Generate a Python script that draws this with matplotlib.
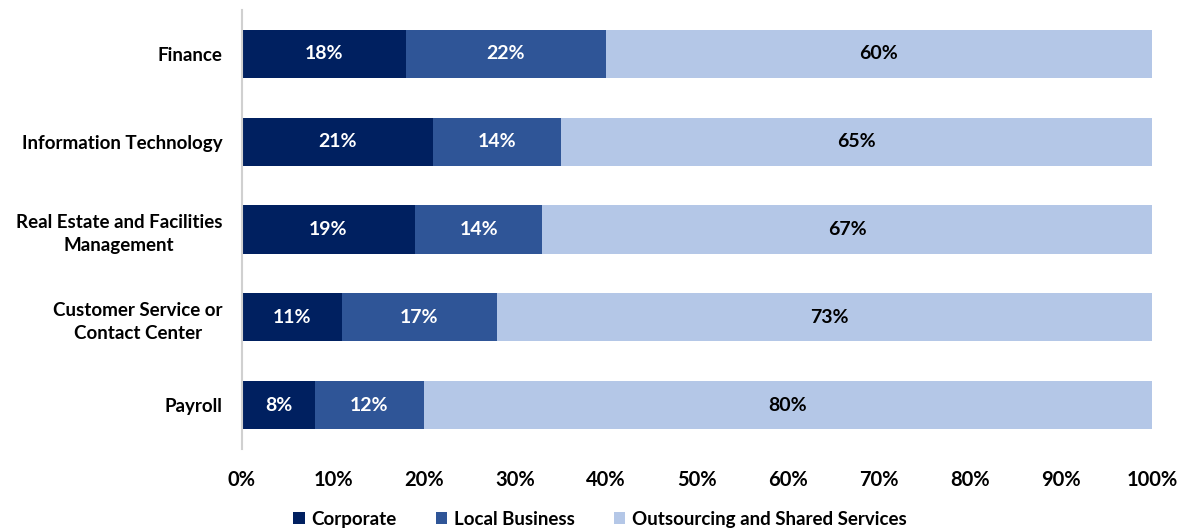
import matplotlib
matplotlib.use("Agg")
import matplotlib.pyplot as plt
from matplotlib.patches import Patch

plt.rcParams['font.family'] = ['Lato', 'DejaVu Sans']

categories = ["Finance", "Information Technology", "Real Estate and Facilities\nManagement",
              "Customer Service or\nContact Center", "Payroll"]
series_names = ["Corporate", "Local Business", "Outsourcing and Shared Services"]
corporate = [18, 21, 19, 11, 8]
local_business = [22, 14, 14, 17, 12]
outsourcing = [60, 65, 67, 73, 80]
tick_labels = ["0%", "10%", "20%", "30%", "40%", "50%", "60%", "70%", "80%", "90%", "100%"]

colors = ["#002060", "#2F5597", "#B4C7E7"]
text_colors = ["white", "white", "black"]

fig = plt.figure(figsize=(11.8, 5.29), dpi=100)
ax = fig.add_axes([242/1180, (529-449)/529, (1152-242)/1180, 439/529])

ypos = list(range(len(categories)))
left = [0.0] * len(categories)
for vals, col, tc in zip([corporate, local_business, outsourcing], colors, text_colors):
    fr = [v / 100 for v in vals]
    ax.barh(ypos, fr, left=left, height=0.55, color=col, edgecolor='none')
    for y, l, w, v in zip(ypos, left, fr, vals):
        ax.text(l + w / 2, y, f"{v}%", ha='center', va='center', color=tc,
                fontsize=14, fontweight='bold')
    left = [l + w for l, w in zip(left, fr)]

ax.set_xlim(0, 1)
ax.set_ylim(len(categories) - 0.5, -0.5)
ax.set_yticks(ypos)
ax.set_yticklabels(categories, fontsize=13.5, fontweight='bold', ha='right',
                   multialignment='center', linespacing=1.45)
ax.tick_params(axis='y', length=0, pad=14)
ax.set_xticks([i / 10 for i in range(11)])
ax.set_xticklabels(tick_labels, fontsize=14.5, fontweight='bold')
ax.tick_params(axis='x', length=0, pad=15)
for s in ['top', 'right', 'bottom']:
    ax.spines[s].set_visible(False)
ax.spines['left'].set_color('#D0D0D0')
ax.spines['left'].set_linewidth(1.5)

handles = [Patch(facecolor=c, edgecolor='none') for c in colors]
fig.legend(handles, series_names, loc='lower center', bbox_to_anchor=(600/1180, -0.03),
           ncol=3, frameon=False, handlelength=0.6, handleheight=0.6, handletextpad=0.35,
           columnspacing=2.1, prop={'size': 13.5, 'weight': 'bold'})

fig.savefig("out.png", dpi=100)
